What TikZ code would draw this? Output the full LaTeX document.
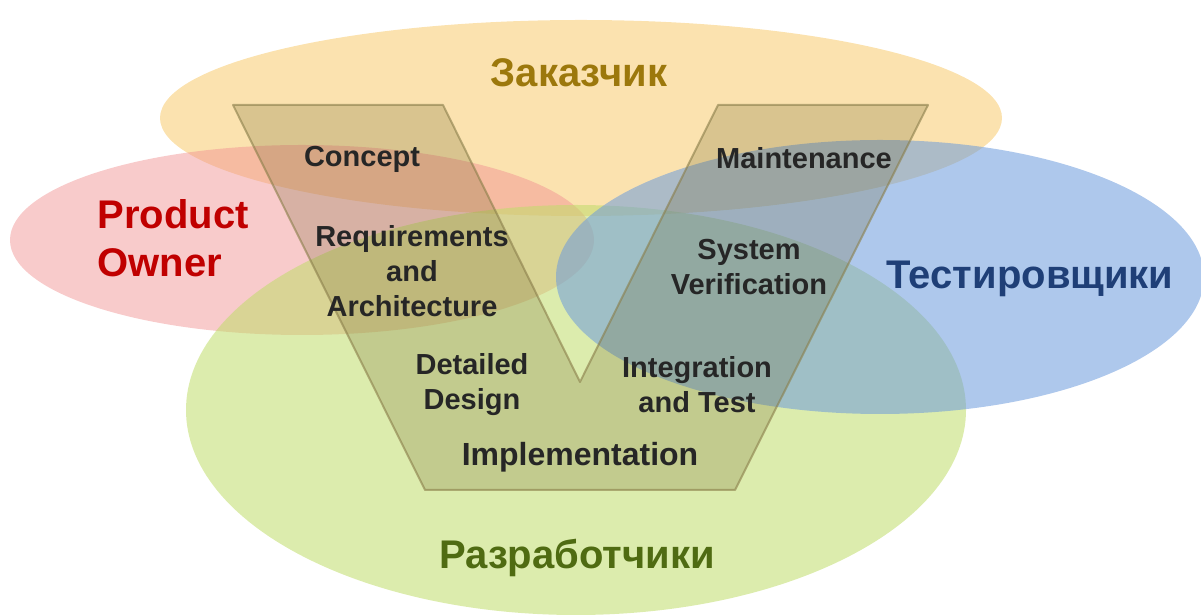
\documentclass[tikz,border=0pt]{standalone}
\usepackage{fontspec}
\setmainfont{Liberation Sans}
\usepackage{tikz}
\usetikzlibrary{positioning}
\definecolor{customer}{HTML}{F8CB6E}
\definecolor{owner}{HTML}{F09090}
\definecolor{devs}{HTML}{C0DC6A}
\definecolor{testers}{HTML}{6C9BDC}
\definecolor{vfill}{HTML}{645A1E}
\definecolor{vline}{HTML}{8A7E4A}
\definecolor{labeltext}{HTML}{262626}
\definecolor{customertext}{HTML}{9C780C}
\definecolor{ownertext}{HTML}{C00000}
\definecolor{testerstext}{HTML}{1F3F77}
\definecolor{devstext}{HTML}{4F6B12}
\tikzset{
  stage/.style={font=\fontsize{29}{35}\selectfont\bfseries, text=labeltext, align=center},
  role/.style={font=\fontsize{40}{48}\selectfont\bfseries, align=center}
}

\begin{document}
\begin{tikzpicture}[x=1pt, y=1pt]
    \useasboundingbox (0, 0) rectangle (1201, 615);
    \clip (0, 0) rectangle (1201, 615);
    % ROLE ELLIPSES
    \fill[customer, opacity=0.55] (581, 497) ellipse [x radius=421, y radius=98];
    \fill[owner, opacity=0.47] (302, 375) ellipse [x radius=292, y radius=95];
    \fill[devs, opacity=0.55] (576, 205) ellipse [x radius=390, y radius=205];
    \fill[testers, opacity=0.55] (880, 338) ellipse [x radius=324, y radius=137];
    % V MODEL
    \filldraw[fill=vfill, fill opacity=0.22, draw=vline, draw opacity=0.6, line width=2pt, line join=round]
        (233, 510) -- (443, 510) -- (580, 233) -- (718, 510) -- (928, 510) -- (735, 125) -- (425, 125) -- cycle;
    % STAGES
    \node[stage] (concept) at (362, 456) {Concept};
    \node[stage] (maint) at (804, 457) {Maintenance};
    \node[stage] (req) at (412, 344) {Requirements\\and\\Architecture};
    \node[stage] (sysver) at (749, 348) {System\\Verification};
    \node[stage] (design) at (472, 230) {Detailed\\Design};
    \node[stage] (integr) at (697, 230) {Integration\\and Test};
    \node[stage, font=\fontsize{32}{38}\selectfont\bfseries] (impl) at (580, 158) {Implementation};
    % ROLES
    \node[role, text=customertext] (customer) at (579, 542) {Заказчик};
    \node[role, text=ownertext, align=left] (owner) at (173, 377) {Product\\Owner};
    \node[role, text=testerstext] (testers) at (1030, 336) {Тестировщики};
    \node[role, text=devstext] (devs) at (577, 57) {Разработчики};
\end{tikzpicture}
\end{document}
